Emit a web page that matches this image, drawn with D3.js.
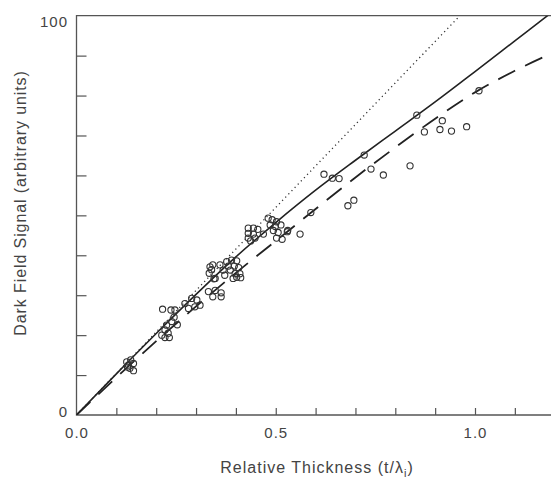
<!DOCTYPE html>
<html>
<head>
<meta charset="utf-8">
<script src="https://cdn.jsdelivr.net/npm/d3@7"></script>
<style>
  body { margin: 0; background: #fff; }
  svg text { font-family: "Liberation Sans", Arial, Helvetica, sans-serif; fill: #444; }
</style>
</head>
<body>
<svg id="chart" width="551" height="479"></svg>
<script>
// measured points: relative thickness t/lambda_i and dark field signal
var thickness = [
  0.126, 0.136, 0.143, 0.130, 0.134, 0.143, 0.128,
  0.216, 0.237, 0.247, 0.245, 0.239, 0.226, 0.222, 0.230, 0.214, 0.222, 0.233, 0.253,
  0.289, 0.302, 0.281, 0.297, 0.310, 0.272,
  0.331, 0.342, 0.363, 0.363, 0.348,
  0.335, 0.339, 0.333, 0.342, 0.345, 0.348,
  0.360, 0.377, 0.389, 0.402, 0.381, 0.396, 0.368, 0.407, 0.386, 0.398, 0.410, 0.402, 0.412, 0.372, 0.393,
  0.431, 0.444, 0.455, 0.431, 0.444, 0.431, 0.448, 0.469, 0.437,
  0.481, 0.491, 0.502, 0.486, 0.499, 0.513, 0.494, 0.506, 0.502, 0.516, 0.530, 0.529,
  0.561, 0.588, 0.621, 0.642, 0.659, 0.681, 0.696, 0.722, 0.739, 0.770,
  0.837, 0.854, 0.873, 0.912, 0.918, 0.941, 0.979, 1.010
];
var signal = [
  13.3, 13.8, 12.9, 12.5, 11.7, 11.1, 12.0,
  26.5, 26.3, 26.3, 24.5, 23.4, 22.5, 21.3, 20.5, 20.0, 19.4, 19.4, 22.6,
  29.2, 28.8, 26.7, 27.1, 27.5, 27.9,
  30.9, 29.6, 29.6, 30.6, 31.2,
  37.1, 36.4, 35.5, 37.6, 34.1, 34.2,
  37.6, 38.4, 38.8, 38.6, 37.3, 37.3, 36.3, 36.9, 36.3, 35.4, 35.4, 34.5, 34.4, 35.0, 34.2,
  46.8, 46.8, 46.5, 45.5, 45.3, 44.3, 44.3, 45.3, 43.6,
  49.3, 48.9, 48.4, 47.6, 47.2, 47.6, 46.2, 45.7, 44.3, 44.0, 46.2, 45.9,
  45.3, 50.7, 60.3, 59.3, 59.2, 52.4, 53.8, 65.1, 61.6, 60.1,
  62.4, 75.1, 70.9, 71.5, 73.7, 71.1, 72.2, 81.2
];

// curves
var curveT      = [0, 0.1, 0.2, 0.3, 0.4, 0.5, 0.6, 0.7, 0.8, 0.9, 1.0, 1.1, 1.2];
var solidCurve  = [0, 10.3, 20.4, 30.2, 39.6, 48.2, 56.3, 63.8, 71.1, 78.4, 86.0, 93.7, 101.4];
var dashedCurve = [0, 9.4, 18.5, 27.2, 35.6, 43.6, 51.6, 59.5, 67.0, 74.2, 80.8, 86.2, 90.9];
var dottedT     = [0, 0.962];
var dottedCurve = [0, 100];

var xTicks = [0.1, 0.2, 0.3, 0.4, 0.5, 0.6, 0.7, 0.8, 0.9, 1.0, 1.1];
var xLabels = [0, 0.5, 1.0];
var yTicks = [10, 20, 30, 40, 50, 60, 70, 80, 90];
var yLabels = [0, 100];

var svg = d3.select("#chart");
var x = d3.scaleLinear().domain([0, 1.2]).range([76.5, 554.7]);
var y = d3.scaleLinear().domain([0, 100]).range([415, 15.7]);

svg.append("defs").append("clipPath").attr("id", "plot-clip")
   .append("rect")
   .attr("x", x(0)).attr("y", y(100))
   .attr("width", x(1.2) - x(0)).attr("height", y(0) - y(100));

var axisColor = "#555";

// tick marks (inward)
var xAxis = svg.append("g").attr("transform", "translate(0," + y(0) + ")")
   .call(d3.axisBottom(x).tickValues(xTicks).tickSize(-7).tickFormat(""));
var yAxis = svg.append("g").attr("transform", "translate(" + x(0) + ",0)")
   .call(d3.axisLeft(y).tickValues(yTicks).tickSize(-10).tickFormat(""));
[xAxis, yAxis].forEach(function(g){
    g.select(".domain").remove();
    g.selectAll("line").attr("stroke", axisColor).attr("stroke-width", 1.2);
});

// frame: left, bottom, top
svg.append("path")
   .attr("d", "M" + x(1.2) + "," + y(100) + "H" + x(0) + "V" + y(0) + "H" + x(1.2))
   .attr("fill", "none").attr("stroke", axisColor).attr("stroke-width", 1.3);

// tick labels
svg.selectAll("text.xl").data(xLabels).enter().append("text")
   .attr("class", "xl")
   .attr("x", function(d){ return x(d) + 0.5; })
   .attr("y", 438)
   .attr("text-anchor", "middle")
   .style("font-size", "15px").style("letter-spacing", "1px")
   .text(function(d){ return d3.format(".1f")(d); });

svg.selectAll("text.yl").data(yLabels).enter().append("text")
   .attr("class", "yl")
   .attr("x", 68)
   .attr("y", function(d){ return d == 100 ? y(d) + 11.5 : y(d) + 2; })
   .attr("text-anchor", "end")
   .style("font-size", "15px").style("letter-spacing", "1px")
   .text(function(d){ return d; });

// axis titles
var xt = svg.append("text")
   .attr("x", 317).attr("y", 473)
   .attr("text-anchor", "middle")
   .style("font-size", "16px").style("letter-spacing", "1px");
xt.append("tspan").text("Relative Thickness (t/λ");
xt.append("tspan").attr("dy", 4).style("font-size", "11px").text("i");
xt.append("tspan").attr("dy", -4).text(")");

svg.append("text")
   .attr("transform", "translate(26,203) rotate(-90)")
   .attr("text-anchor", "middle")
   .style("font-size", "16px").style("letter-spacing", "0.9px")
   .text("Dark Field Signal (arbitrary units)");

// curves
var plot = svg.append("g").attr("clip-path", "url(#plot-clip)");

var line = d3.line()
   .x(function(d){ return x(d[0]); })
   .y(function(d){ return y(d[1]); })
   .curve(d3.curveMonotoneX);

plot.append("path")
   .datum(d3.zip(dottedT, dottedCurve))
   .attr("d", line)
   .attr("fill", "none").attr("stroke", "#333")
   .attr("stroke-width", 1.3).attr("stroke-dasharray", "1.2,3.3");

plot.append("path")
   .datum(d3.zip(curveT, solidCurve))
   .attr("d", line)
   .attr("fill", "none").attr("stroke", "#222").attr("stroke-width", 1.6);

plot.append("path")
   .datum(d3.zip(curveT, dashedCurve))
   .attr("d", line)
   .attr("fill", "none").attr("stroke", "#222")
   .attr("stroke-width", 1.8).attr("stroke-dasharray", "19,11");

// data points
plot.selectAll("circle").data(d3.zip(thickness, signal)).enter().append("circle")
   .attr("cx", function(d){ return x(d[0]); })
   .attr("cy", function(d){ return y(d[1]); })
   .attr("r", 3.1)
   .attr("fill", "none")
   .attr("stroke", "#333")
   .attr("stroke-width", 1.1);
</script>
</body>
</html>
